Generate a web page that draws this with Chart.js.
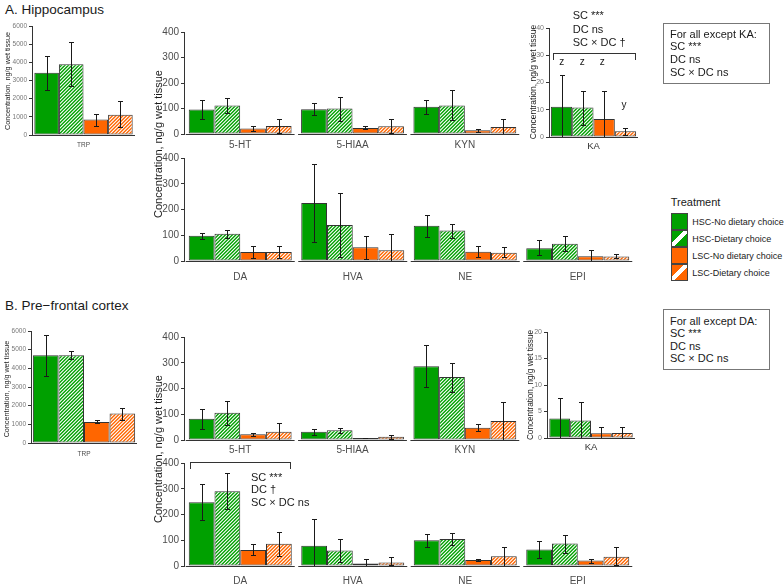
<!DOCTYPE html>
<html><head><meta charset="utf-8">
<script src="https://cdn.jsdelivr.net/npm/chart.js@4.4.1/dist/chart.umd.min.js"></script>
<style>
html,body{margin:0;padding:0;background:#fff;}
body{width:784px;height:586px;position:relative;overflow:hidden;font-family:"Liberation Sans",Arial,sans-serif;color:#1a1a1a;}
canvas{position:absolute;}
.t{position:absolute;white-space:nowrap;line-height:1;}
.rot{position:absolute;white-space:nowrap;line-height:1;transform:translate(-50%,-50%) rotate(-90deg);}
.ctr{position:absolute;white-space:nowrap;line-height:1;transform:translate(-50%,-50%);}
.box{position:absolute;border:1px solid #777;box-sizing:border-box;padding-left:6px;font-size:11px;}
.box div{white-space:nowrap;}
.brk{position:absolute;border:1.3px solid #333;border-bottom:none;box-sizing:border-box;}
.key{position:absolute;width:17px;height:17px;box-sizing:border-box;border:1px solid #444;}
.lab{position:absolute;font-size:9px;line-height:1;white-space:nowrap;}
</style></head><body>
<script>
// ---------------- DATA ----------------
const seriesNames = ['HSC-No dietary choice','HSC-Dietary choice','LSC-No dietary choice','LSC-Dietary choice'];

// A. Hippocampus
const hipTrpCats = ['TRP'];
const hipTrpMean = [[3425],[3900],[850],[1120]];
const hipTrpLo   = [[2450],[2670],[516],[424]];
const hipTrpHi   = [[4365],[5100],[1160],[1897]];

const hipTopCats = ['5-HT','5-HIAA','KYN'];
const hipTopMean = [[96,97,107],[112,100,112],[22,24,15],[31,30,27]];
const hipTopLo   = [[60,75,80],[82,52,55],[12,18,8],[3,5,0]];
const hipTopHi   = [[133,122,133],[141,147,172],[33,30,21],[60,57,60]];

const hipKaCats = ['KA'];
const hipKaMean = [[11.1],[10.8],[6.6],[2.1]];
const hipKaLo   = [[0],[4.3],[0],[0.9]];
const hipKaHi   = [[22.7],[17],[17],[3.4]];

const hipBotCats = ['DA','HVA','NE','EPI'];
const hipBotMean = [[98,225,137,50],[106,140,118,67],[35,53,36,18],[35,42,32,17]];
const hipBotLo   = [[85,72,95,23],[90,15,90,38],[12,8,15,0],[12,0,14,10]];
const hipBotHi   = [[110,378,177,82],[122,265,145,97],[58,97,57,42],[58,103,53,28]];

// B. Pre-frontal cortex
const pfcTrpCats = ['TRP'];
const pfcTrpMean = [[4700],[4700],[1130],[1580]];
const pfcTrpLo   = [[3580],[4520],[1080],[1220]];
const pfcTrpHi   = [[5790],[4950],[1240],[1900]];

const pfcTopCats = ['5-HT','5-HIAA','KYN'];
const pfcTopMean = [[83,32,286],[106,38,245],[22,8,48],[32,13,74]];
const pfcTopLo   = [[44,21,205],[57,29,188],[16,6,34],[0,3,0]];
const pfcTopHi   = [[122,44,368],[152,47,300],[29,9,61],[65,21,148]];

const pfcKaCats = ['KA'];
const pfcKaMean = [[3.7],[3.3],[0.9],[0.95]];
const pfcKaLo   = [[0],[0],[0],[0]];
const pfcKaHi   = [[7.5],[6.8],[2.0],[2.1]];

const pfcBotCats = ['DA','HVA','NE','EPI'];
const pfcBotMean = [[248,79,100,64],[290,60,105,87],[62,10,23,21],[86,14,38,36]];
const pfcBotLo   = [[179,0,75,30],[223,17,82,52],[43,0,21,13],[39,5,0,3]];
const pfcBotHi   = [[319,183,123,97],[360,104,129,121],[84,26,26,29],[131,35,75,73]];

// ---------------- STYLE ----------------
const FF = '"Liberation Sans", Arial, sans-serif';
const GREEN = '#00A000', ORANGE = '#FF6600';
const seriesColors = [GREEN, GREEN, ORANGE, ORANGE];
const seriesHatched = [false, true, false, true];

function hatchPattern(ctx, color){
  const s = 7;
  const c = document.createElement('canvas'); c.width = s; c.height = s;
  const g = c.getContext('2d');
  g.fillStyle = color; g.fillRect(0,0,s,s);
  g.strokeStyle = '#fff'; g.lineWidth = 1.1;
  g.beginPath();
  [0, 3.5, 7, 10.5, 14].forEach(k => { g.moveTo(k+1, -1); g.lineTo(-1, k+1); });
  g.stroke();
  return ctx.createPattern(c, 'repeat');
}

const errPlugin = {id:'errbars', afterDatasetsDraw(chart){
  const ctx = chart.ctx, y = chart.scales.y;
  ctx.save(); ctx.strokeStyle = '#1a1a1a'; ctx.lineWidth = 1;
  chart.data.datasets.forEach((ds,i) => {
    chart.getDatasetMeta(i).data.forEach((bar,j) => {
      const x = Math.round(bar.x) + 0.5;
      const y1 = Math.round(y.getPixelForValue(ds.errHi[j])) + 0.5;
      const y0 = Math.round(y.getPixelForValue(ds.errLo[j])) + 0.5;
      ctx.beginPath();
      ctx.moveTo(x, y0); ctx.lineTo(x, y1);
      ctx.moveTo(x-2.5, y1); ctx.lineTo(x+2.5, y1);
      ctx.moveTo(x-2.5, y0); ctx.lineTo(x+2.5, y0);
      ctx.stroke();
    });
  });
  ctx.restore();
}};

const basePlugin = {id:'baseline', afterDatasetsDraw(chart){
  const ctx = chart.ctx, x = chart.scales.x, y = chart.scales.y, ca = chart.chartArea;
  const n = chart.data.labels.length;
  const half = (x.width / n) * chart.data.datasets[0].categoryPercentage / 2 + 3;
  const yb = Math.round(y.getPixelForValue(0)) + 0.5;
  ctx.save(); ctx.strokeStyle = '#333'; ctx.lineWidth = 1;
  chart.data.labels.forEach((l,j) => {
    const c = x.getPixelForValue(j);
    ctx.beginPath(); ctx.moveTo(Math.max(ca.left, c-half), yb); ctx.lineTo(Math.min(ca.right, c+half), yb); ctx.stroke();
  });
  ctx.restore();
}};

function makePanel(p){
  const PT = 8, PR = 6;
  const cv = document.createElement('canvas');
  const W = Math.round(p.right - p.left + p.yw + PR);
  const H = Math.round(p.bottom - p.top + PT + p.xh);
  cv.width = W; cv.height = H;
  cv.style.left = (p.left - p.yw) + 'px'; cv.style.top = (p.top - PT) + 'px';
  cv.style.width = W + 'px'; cv.style.height = H + 'px';
  document.body.appendChild(cv);
  const ctx = cv.getContext('2d');
  const datasets = p.mean.map((vals,i) => ({
    label: seriesNames[i], data: vals,
    backgroundColor: seriesHatched[i] ? hatchPattern(ctx, seriesColors[i]) : seriesColors[i],
    borderColor: '#333', borderWidth: 1, borderSkipped: false,
    barPercentage: 1, categoryPercentage: p.catPct,
    errLo: p.lo[i], errHi: p.hi[i]
  }));
  new Chart(cv, {
    type: 'bar',
    data: {labels: p.cats, datasets},
    options: {
      responsive: false, animation: false, devicePixelRatio: 1,
      layout: {padding: {top: PT, right: PR, left: 0, bottom: 0}},
      plugins: {legend: {display: false}, tooltip: {enabled: false}},
      scales: {
        x: {grid: {display: false, drawTicks: false}, border: {display: false},
            ticks: {font: {size: p.xf, family: FF}, color: p.xc || '#4d4d4d', padding: p.labelOff - 0.6*p.xf, maxRotation: 0, autoSkip: false},
            afterFit: s => { s.height = p.xh; }},
        y: {min: 0, max: p.ymax,
            grid: {display: true, drawOnChartArea: false, drawTicks: true, tickLength: 3, color: '#333', lineWidth: 1},
            border: {display: true, color: '#333', width: 1},
            ticks: {stepSize: p.step, font: {size: p.yf, family: FF}, color: p.yc, padding: 2, callback: v => String(v)},
            afterFit: s => { s.width = p.yw; }}
      }
    },
    plugins: [errPlugin, basePlugin]
  });
}

const midCat = 0.9156;
makePanel({cats: hipTrpCats, mean: hipTrpMean, lo: hipTrpLo, hi: hipTrpHi, left: 31.5, right: 134.5, top: 26, bottom: 134.7,
  yw: 30, xh: 18, xf: 6.5, yf: 6.5, yc: '#777', labelOff: 10.3, catPct: 0.955, ymax: 6000, step: 1000});
makePanel({cats: hipTopCats, mean: hipTopMean, lo: hipTopLo, hi: hipTopHi, left: 183.5, right: 520.75, top: 32.3, bottom: 134.7,
  yw: 40, xh: 18, xf: 10, yf: 10, yc: '#4d4d4d', labelOff: 11.5, catPct: midCat, ymax: 400, step: 100});
makePanel({cats: hipKaCats, mean: hipKaMean, lo: hipKaLo, hi: hipKaHi, left: 549, right: 638, top: 27.7, bottom: 136.7,
  yw: 22, xh: 16, xf: 9.5, yf: 7, yc: '#777', xc: '#333', labelOff: 9.5, catPct: 0.958, ymax: 40, step: 10});
makePanel({cats: hipBotCats, mean: hipBotMean, lo: hipBotLo, hi: hipBotHi, left: 183.5, right: 633.25, top: 158.3, bottom: 261.7,
  yw: 40, xh: 24, xf: 10, yf: 10, yc: '#4d4d4d', labelOff: 16, catPct: midCat, ymax: 400, step: 100});

makePanel({cats: pfcTrpCats, mean: pfcTrpMean, lo: pfcTrpLo, hi: pfcTrpHi, left: 30.5, right: 136, top: 331, bottom: 442.7,
  yw: 29, xh: 18, xf: 6.5, yf: 6.5, yc: '#777', labelOff: 11.5, catPct: 0.965, ymax: 6000, step: 1000});
makePanel({cats: pfcTopCats, mean: pfcTopMean, lo: pfcTopLo, hi: pfcTopHi, left: 183.5, right: 520.75, top: 337.3, bottom: 440.5,
  yw: 40, xh: 18, xf: 10, yf: 10, yc: '#4d4d4d', labelOff: 10.5, catPct: midCat, ymax: 400, step: 100});
makePanel({cats: pfcKaCats, mean: pfcKaMean, lo: pfcKaLo, hi: pfcKaHi, left: 547, right: 635, top: 331.7, bottom: 438,
  yw: 22, xh: 16, xf: 9.5, yf: 7, yc: '#777', xc: '#333', labelOff: 9.5, catPct: 0.948, ymax: 20, step: 5});
makePanel({cats: pfcBotCats, mean: pfcBotMean, lo: pfcBotLo, hi: pfcBotHi, left: 183.5, right: 633.25, top: 463.3, bottom: 566,
  yw: 40, xh: 20, xf: 10, yf: 10, yc: '#4d4d4d', labelOff: 15, catPct: midCat, ymax: 400, step: 100});
</script>

<!-- Titles -->
<div class="t" style="left:5px;top:2.6px;font-size:13.5px;">A. Hippocampus</div>
<div class="t" style="left:5px;top:298.6px;font-size:13.5px;">B. Pre−frontal cortex</div>

<!-- Y-axis titles -->
<div class="rot" style="left:158px;top:144px;font-size:11px;">Concentration, ng/g wet tissue</div>
<div class="rot" style="left:158px;top:449px;font-size:11px;">Concentration, ng/g wet tissue</div>
<div class="rot" style="left:8px;top:81px;font-size:7.3px;">Concentration, ng/g wet tissue</div>
<div class="rot" style="left:7px;top:389px;font-size:7.2px;">Concentration, ng/g wet tissue</div>
<div class="rot" style="left:533px;top:82px;font-size:8.5px;">Concentration, ng/g wet tissue</div>
<div class="rot" style="left:531px;top:385px;font-size:8.2px;">Concentration, ng/g wet tissue</div>

<!-- KA annotations (Hippocampus) -->
<div class="t" style="left:572.7px;top:9.4px;font-size:11px;line-height:13.3px;">SC ***<br>DC ns<br>SC × DC †</div>
<div class="brk" style="left:553px;top:52.7px;width:83px;height:7px;"></div>
<div class="ctr" style="left:561.7px;top:62.3px;font-size:10px;">z</div>
<div class="ctr" style="left:582.3px;top:62.3px;font-size:10px;">z</div>
<div class="ctr" style="left:602.3px;top:62.3px;font-size:10px;">z</div>
<div class="ctr" style="left:624px;top:105.3px;font-size:10px;">y</div>

<!-- Boxes -->
<div class="box" style="left:663px;top:22.5px;width:107px;height:61px;padding-top:4px;line-height:12.8px;">
  <div>For all except KA:</div><div>SC ***</div><div>DC ns</div><div>SC × DC ns</div>
</div>
<div class="box" style="left:663px;top:308.7px;width:107px;height:61.3px;padding-top:5.4px;line-height:12.3px;">
  <div>For all except DA:</div><div>SC ***</div><div>DC ns</div><div>SC × DC ns</div>
</div>

<!-- DA annotation (PFC) -->
<div class="brk" style="left:190px;top:461.7px;width:101px;height:7.5px;"></div>
<div class="t" style="left:251px;top:471.1px;font-size:11px;line-height:12.35px;">SC ***<br>DC †<br>SC × DC ns</div>

<!-- Legend -->
<div class="t" style="left:670.7px;top:196.6px;font-size:11px;">Treatment</div>
<div class="key" style="left:670.5px;top:213px;background:#00A000;"></div>
<div class="key" style="left:670.5px;top:230px;background:linear-gradient(to bottom right,#00A000 0%,#00A000 38%,#fff 38%,#fff 60%,#00A000 60%);"></div>
<div class="key" style="left:670.5px;top:247px;background:#FF6600;"></div>
<div class="key" style="left:670.5px;top:264px;background:linear-gradient(to bottom right,#FF6600 0%,#FF6600 38%,#fff 38%,#fff 60%,#FF6600 60%);"></div>
<div class="lab" style="left:692.3px;top:217.5px;">HSC-No dietary choice</div>
<div class="lab" style="left:692.3px;top:234.5px;">HSC-Dietary choice</div>
<div class="lab" style="left:692.3px;top:251.5px;">LSC-No dietary choice</div>
<div class="lab" style="left:692.3px;top:268.5px;">LSC-Dietary choice</div>
</body></html>
